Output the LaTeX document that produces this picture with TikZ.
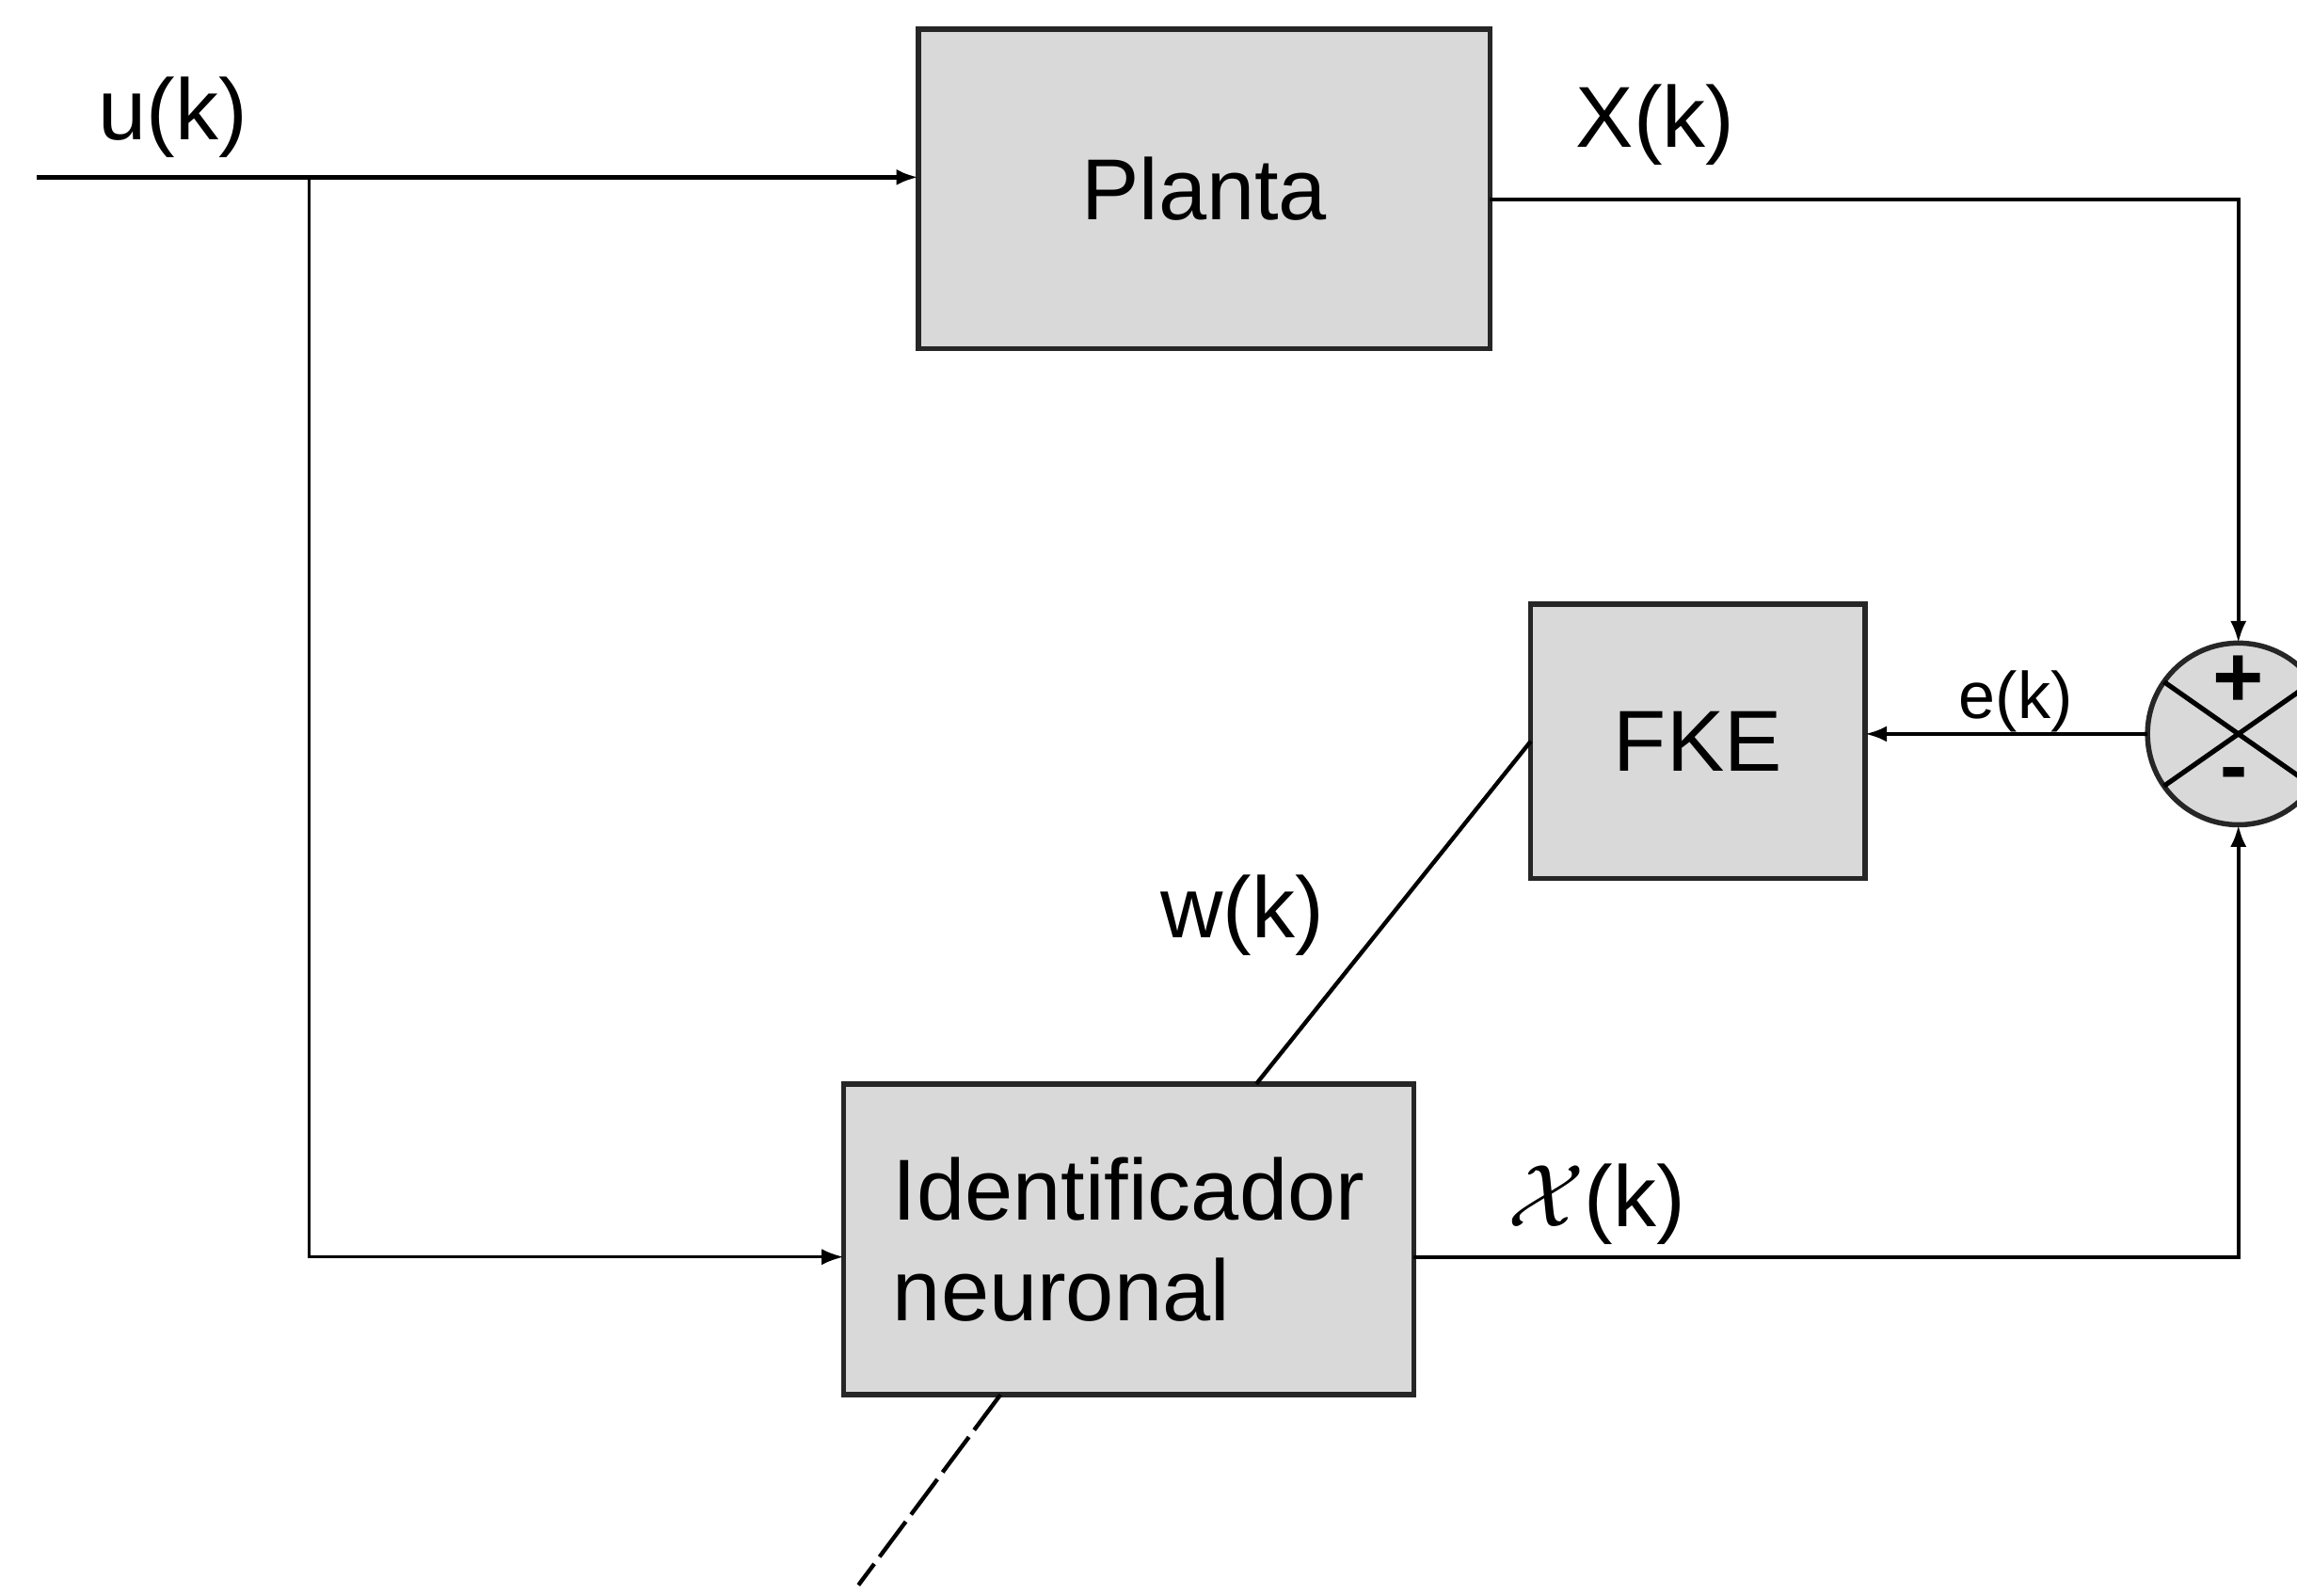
\documentclass[tikz,border=0pt]{standalone}
\usepackage{fontspec}
\setmainfont{Liberation Sans}
\usetikzlibrary{arrows.meta,calc}
\begin{document}
\begin{tikzpicture}[x=0.01cm,y=-0.01cm,
  block/.style={draw=black!85, line width=1pt, fill=gray!30, inner sep=0pt, outer sep=0pt,
    font=\fontsize{16.8}{19.6}\selectfont},
  lbl/.style={inner sep=0pt, font=\fontsize{16.8}{19.6}\selectfont},
  conn/.style={line width=0.8pt, draw=black},
  arr/.style={conn, -{Latex[length=0.15cm,width=0.11cm]}}]
\useasboundingbox (0,0) rectangle (1568,1089);
\clip (0,0) rectangle (1568,1089);

% blocks
\node[block, minimum width=3.90cm, minimum height=2.18cm] (planta) at (822,129) {Planta};
\node[block, minimum width=2.28cm, minimum height=1.87cm] (fke) at (1159,506) {FKE};
\node[block, minimum width=3.89cm, minimum height=2.12cm, align=left] (ident) at (770.5,846) {Identificador\\neuronal};
\node[draw=black!85, line width=1pt, fill=gray!30, circle, minimum size=1.24cm, inner sep=0pt, outer sep=0pt] (sum) at (1528,501) {};
\draw[conn, line width=0.95pt] (sum.145) -- (sum.-35);
\draw[conn, line width=0.95pt] (sum.215) -- (sum.35);
\node[inner sep=0pt, font=\fontsize{17}{17}\selectfont\bfseries] (plus) at (1528,465) {+};
\node[inner sep=0pt, font=\fontsize{16}{16}\selectfont\bfseries] (minus) at (1525,533) {-};

% coordinates
\coordinate (in) at (25,121);
\coordinate (br) at (211,121);
\coordinate (dend) at (586,1082);

% connectors
\draw[arr, line width=0.9pt] (in) -- (in -| planta.west);
\draw[arr, line width=0.6pt] (br) |- ([yshift=-0.12cm]ident.west);
\draw[arr] ([yshift=-0.07cm]planta.east) -| (sum.north);
\draw[arr] ([yshift=-0.12cm]ident.east) -| (sum.south);
\draw[arr] (sum.west) -- (sum.west -| fke.east);
\draw[conn] ([xshift=0.87cm]ident.north) -- (fke.west);
\draw[conn, dash pattern=on 0.3cm off 0.06cm] ([xshift=-0.875cm]ident.south) -- (dend);

% labels
\node[lbl] (lu) at (118,80) {u(k)};
\node[lbl] (lX) at (1130,85) {X(k)};
\node[lbl, font=\fontsize{12.8}{14}\selectfont] (le) at (1376,479) {e(k)};
\node[lbl] (lw) at (848,625) {w(k)};
\node[lbl] (lx) at (1090,822) {$\mathcal{X}$(k)};
\end{tikzpicture}
\end{document}
